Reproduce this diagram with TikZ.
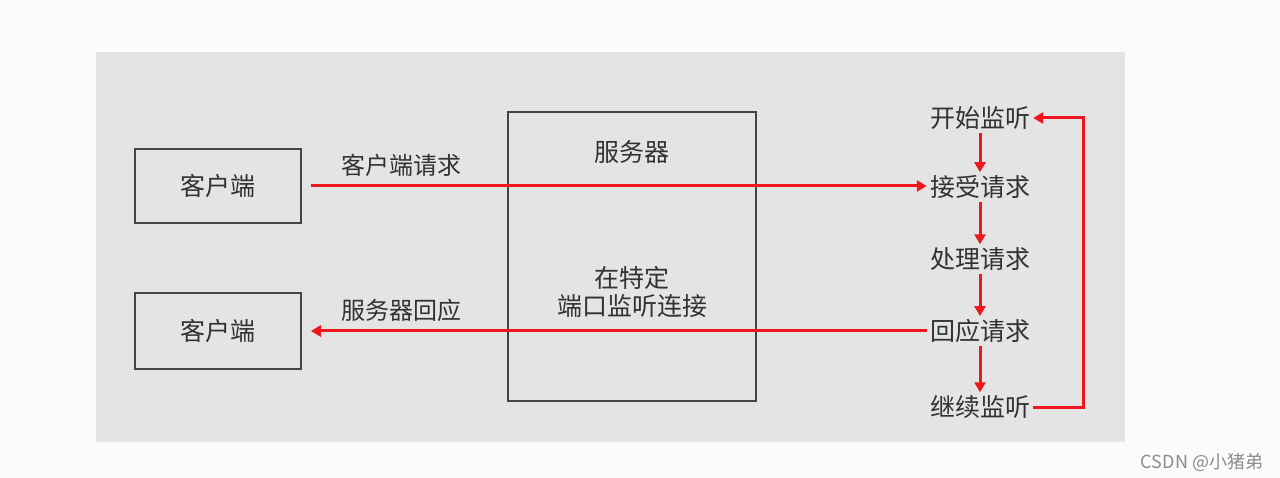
\documentclass[tikz,border=0pt]{standalone}
\usepackage{fontspec}
\setmainfont{Noto Sans CJK SC}
\usetikzlibrary{arrows.meta}
\definecolor{bggray}{RGB}{228,228,228}
\definecolor{pagewhite}{RGB}{252,251,250}
\definecolor{flowred}{RGB}{240,22,32}
\definecolor{boxline}{RGB}{68,68,68}
\definecolor{inkgray}{RGB}{50,50,50}
\begin{document}
\begin{tikzpicture}[x=1pt, y=-1pt,
    txt/.style={font=\fontsize{25}{28}\selectfont, text=inkgray, inner sep=3pt},
    edgetxt/.style={font=\fontsize{24}{26}\selectfont, text=inkgray, inner sep=2pt},
    box/.style={draw=boxline, line width=1.6pt, txt},
    flow/.style={draw=flowred, line width=3pt, -{Triangle[length=10pt,width=11pt]}}]
      % Page and grey panel
      \fill[pagewhite] (0,0) rectangle (1280,478);
      \useasboundingbox (0,0) rectangle (1280,478);
      \fill[bggray] (96,52) rectangle (1125,442);
      % Clients
      \node[box, minimum width=166pt, minimum height=74pt] (client1) at (218,186) {客户端};
      \node[box, minimum width=166pt, minimum height=76pt] (client2) at (218,331) {客户端};
      % Server
      \node[box, minimum width=248pt, minimum height=289pt] (server) at (632,256.5) {};
      \node[txt] (servername) at (632,152) {服务器};
      \node[txt, align=center] (serverport) at (632,292) {在特定\\端口监听连接};
      % Server loop
      \node[txt] (listen) at (980,118) {开始监听};
      \node[txt] (accept) at (980,187) {接受请求};
      \node[txt] (handle) at (980,259) {处理请求};
      \node[txt] (reply) at (980,331) {回应请求};
      \node[txt] (relisten) at (980,407) {继续监听};
      \draw[flow] (listen) -- (accept);
      \draw[flow] (accept) -- (handle);
      \draw[flow] (handle) -- (reply);
      \draw[flow] (reply) -- (relisten);
      \draw[flow] (relisten.east) -- ++(50,0) |- (listen.east);
      % Request and response
      \draw[flow, shorten <=9pt] (client1.east) -- (client1.east -| accept.west)
        node[edgetxt, pos=0.16, above=6pt] (reqtxt) {客户端请求};
      \draw[flow, shorten >=9pt] (reply.west) -- (reply.west -| client2.east)
        node[edgetxt, pos=0.84, above=6pt] (resptxt) {服务器回应};
      % Watermark
      \node[font=\fontsize{18}{20}\selectfont, text=black!45] (mark) at (1202,462) {CSDN @小猪弟};
    \end{tikzpicture}
\end{document}
